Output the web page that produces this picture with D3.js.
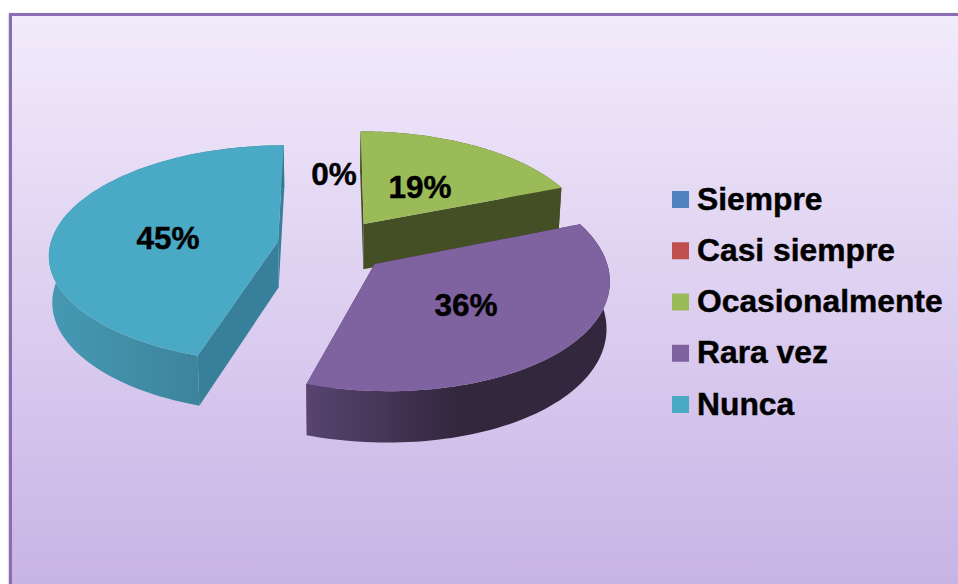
<!DOCTYPE html>
<html lang="es">
	<head>
		<meta charset="utf-8">
		<title>Pie 3D</title>
		<script type="text/javascript" src="https://cdn.jsdelivr.net/npm/d3@7/dist/d3.min.js"></script>
		<style type="text/css">
			html, body {
				margin: 0;
				padding: 0;
				background: #fff;
			}
			svg {
				display: block;
			}
			text {
				font-family: "Liberation Sans", Arial, sans-serif;
				font-weight: bold;
				fill: #000;
				stroke: #000;
				stroke-width: 0.45px;
			}
		</style>
	</head>
	<body>
		<script type="text/javascript">
			//Data
			var categories = ["Siempre", "Casi siempre", "Ocasionalmente", "Rara vez", "Nunca"];
			var values = [0, 0, 19, 36, 45];
			var colors = ["#4f81bd", "#c0504d", "#9bbb59", "#7f62a0", "#4aa9c4"];

			//Width and height
			var w = 958;
			var h = 584;

			//Where the percent labels sit, same order as categories (no label for Siempre)
			var labelX = [null, 334, 420, 466, 168];
			var labelY = [null, 174, 187, 305, 238];

			//Wall shades per category: radial wall, arc wall left, arc wall right
			var wallFlat = [null, null, "#454f26", "#35283f", "#38809a"];
			var wallLeft = [null, null, "#454f26", "#58446f", "#4699b3"];
			var wallRight = [null, null, "#454f26", "#33273e", "#37788f"];

			//Perspective model of the pie
			var cx = 333, cy = 245.5, rx = 228, ry = 108, persp = 0.115, explode = 0.245;
			var depth = 46, bottomScale = 0.988, frontShift = 6;

			var svg = d3.select("body")
				.append("svg")
				.attr("width", w)
				.attr("height", h);

			var defs = svg.append("defs");

			var bg = defs.append("linearGradient")
				.attr("id", "bg")
				.attr("x1", 0).attr("y1", 0)
				.attr("x2", 0).attr("y2", 1);
			bg.append("stop").attr("offset", "0%").attr("stop-color", "#f2ebfb");
			bg.append("stop").attr("offset", "100%").attr("stop-color", "#c7b2e5");

			var blur = defs.append("filter").attr("id", "soft");
			blur.append("feGaussianBlur").attr("stdDeviation", 1.2);

			//Frame
			svg.append("rect")
				.attr("x", 9).attr("y", 14)
				.attr("width", w).attr("height", h)
				.attr("fill", "#999")
				.attr("filter", "url(#soft)");

			svg.append("rect")
				.attr("x", 10.5).attr("y", 14.5)
				.attr("width", w).attr("height", h)
				.attr("fill", "url(#bg)")
				.attr("stroke", "#8c6db4")
				.attr("stroke-width", 3);

			//Pie angles, starting at the top and going clockwise
			var pie = d3.pie().sort(null).value(function(d) { return d; });
			var arcs = pie(values);

			function project(x, y, bottom) {
				var s = 1 / (1 + persp * y);
				var k = bottom ? bottomScale : 1;
				var lean = y < 0 ? frontShift * y * y : 0;
				return [
					cx + rx * x * s * k + lean,
					cy - ry * y * s * k + (bottom ? depth * s : 0)
				];
			}

			function rimPoints(d, bottom) {
				var mid = (d.startAngle + d.endAngle) / 2;
				var ox = explode * Math.sin(mid);
				var oy = explode * Math.cos(mid);
				var n = 80;
				var step = (d.endAngle - d.startAngle) / n;
				var pts = d3.range(n + 1).map(function(i) {
					var a = d.startAngle + i * step;
					return project(ox + Math.sin(a), oy + Math.cos(a), bottom);
				});
				return { apex: project(ox, oy, bottom), rim: pts };
			}

			var line = d3.line().curve(d3.curveLinearClosed);

			//Back slice first, the purple one has to cover the foot of the green one
			var order = [2, 4, 3];
			var slices = svg.append("g").attr("id", "pie");

			order.forEach(function(i) {
				var top = rimPoints(arcs[i], false);
				var low = rimPoints(arcs[i], true);
				var g = slices.append("g");

				var xs = top.rim.map(function(p) { return p[0]; });
				var grad = defs.append("linearGradient")
					.attr("id", "wall" + i)
					.attr("gradientUnits", "userSpaceOnUse")
					.attr("x1", d3.min(xs)).attr("y1", 0)
					.attr("x2", d3.max(xs)).attr("y2", 0);
				grad.append("stop").attr("offset", "0%").attr("stop-color", wallLeft[i]);
				grad.append("stop").attr("offset", i === 3 ? "50%" : "100%").attr("stop-color", wallRight[i]);

				//Radial walls
				[0, top.rim.length - 1].forEach(function(k) {
					g.append("path")
						.attr("d", line([top.apex, top.rim[k], low.rim[k], low.apex]))
						.attr("fill", wallFlat[i]);
				});

				//Arc wall
				g.append("path")
					.attr("d", line(top.rim.concat(low.rim.slice().reverse())))
					.attr("fill", "url(#wall" + i + ")");

				//Top face
				g.append("path")
					.attr("d", line([top.apex].concat(top.rim)))
					.attr("fill", colors[i]);
			});

			//Percent labels
			svg.append("g")
				.attr("id", "labels")
				.selectAll("text")
				.data(arcs.filter(function(d) { return labelX[d.index] !== null; }))
				.enter()
				.append("text")
				.attr("x", function(d) { return labelX[d.index]; })
				.attr("y", function(d) { return labelY[d.index] + 11; })
				.attr("text-anchor", "middle")
				.attr("font-size", 31.5)
				.text(function(d) { return d.value + "%"; });

			//Legend
			var legendY = d3.scalePoint()
				.domain(categories)
				.range([199.5, 404.5]);

			var legend = svg.append("g")
				.attr("id", "legend")
				.selectAll("g")
				.data(categories)
				.enter()
				.append("g")
				.attr("transform", function(d) { return "translate(0," + legendY(d) + ")"; });

			legend.append("rect")
				.attr("x", 672)
				.attr("y", -8.5)
				.attr("width", 17)
				.attr("height", 17)
				.attr("fill", function(d, i) { return colors[i]; });

			legend.append("text")
				.attr("x", 697)
				.attr("y", 10)
				.attr("font-size", 31.8)
				.text(function(d) { return d; });
		</script>
	</body>
</html>
